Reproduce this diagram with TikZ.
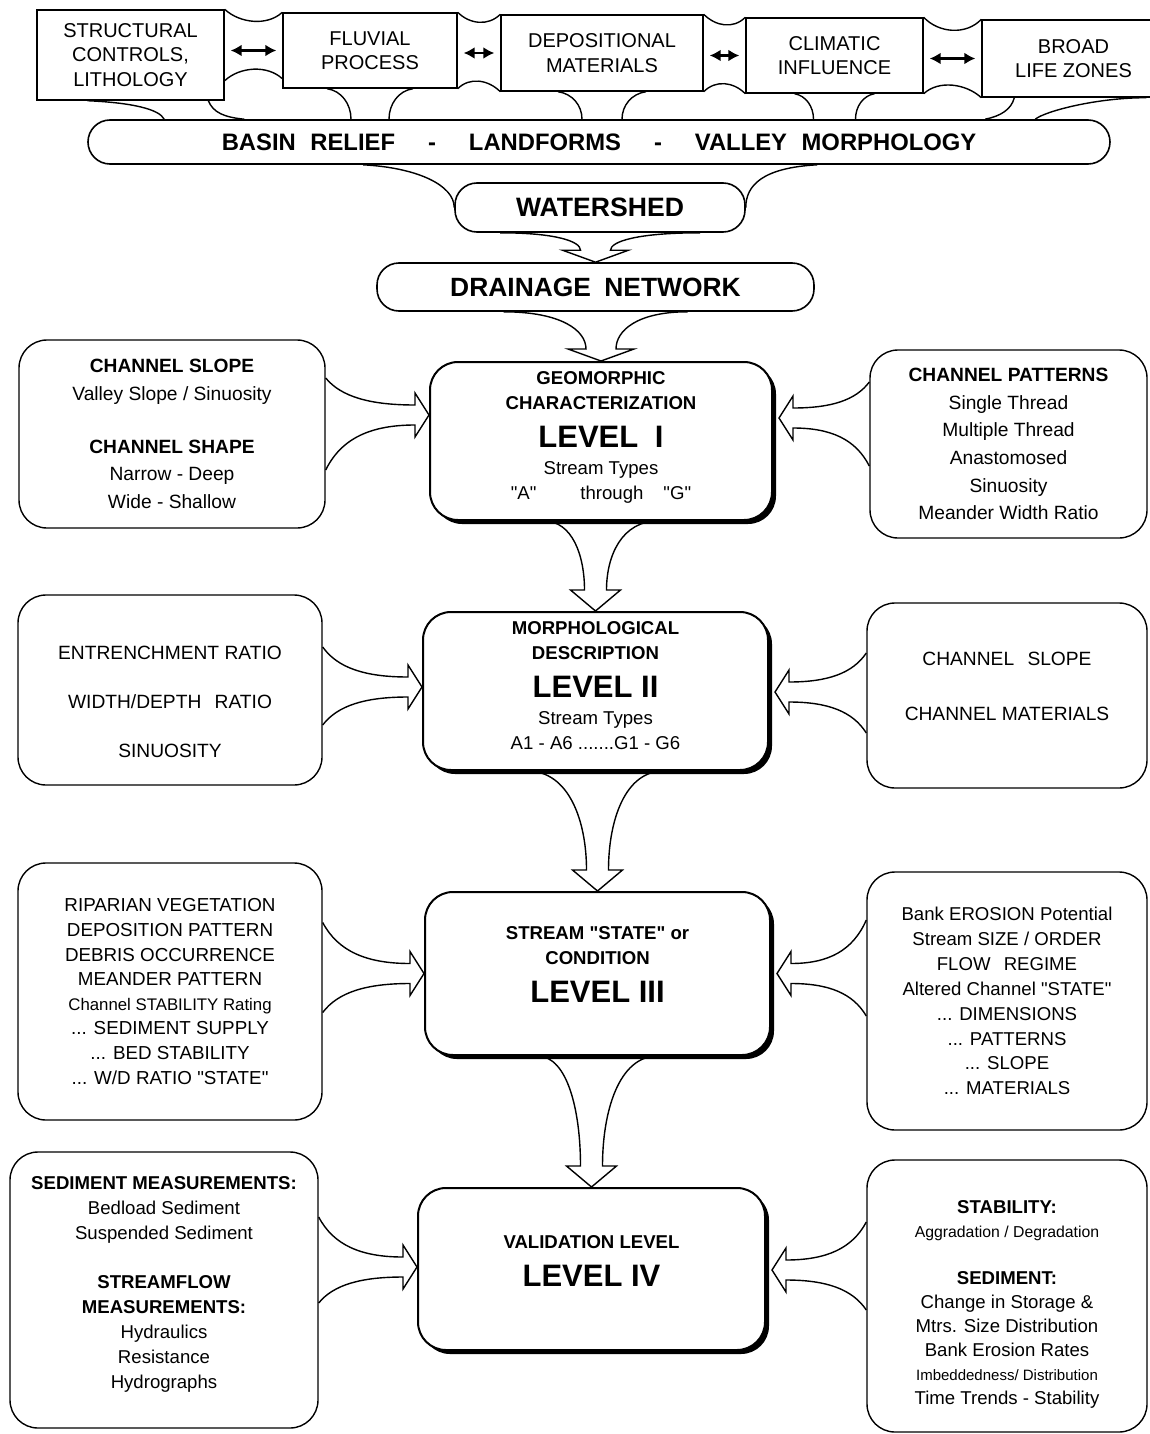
\documentclass[tikz,border=0pt]{standalone}
\usepackage{fontspec}
\setmainfont{Liberation Sans}
\usetikzlibrary{positioning,arrows.meta,calc,shadows}

\begin{document}
\begin{tikzpicture}[
        x=0.5pt, y=-0.5pt,
        funnel neck/.store in=\fnneck, funnel barb/.store in=\fnbarb, funnel head/.store in=\fnhead,
        funnel neck=5pt, funnel barb=11pt, funnel head=7pt,
        factor/.style={rectangle, draw=black, line width=0.7pt, align=center, inner sep=0pt, font=\fontsize{10}{12.25}\selectfont},
        band/.style={rectangle, rounded corners=11pt, draw=black, line width=0.8pt, inner sep=0pt, font=\bfseries\fontsize{11.9}{14}\selectfont},
        levelbox/.style={rectangle, rounded corners=14pt, draw=black, line width=1pt, fill=white, inner sep=0pt,
            drop shadow={shadow xshift=2pt, shadow yshift=-2pt, fill=black, opacity=1}},
        leveltext/.style={align=center, inner sep=0pt, font=\fontsize{9.3}{12.5}\selectfont},
        sidebox/.style={rectangle, rounded corners=14pt, draw=black, line width=0.7pt, align=center, inner sep=0pt, font=\fontsize{9.4}{12.4}\selectfont},
        sidetext/.style={align=center, inner sep=0pt},
        link/.style={line width=0.7pt},
        twoway/.style={line width=1.4pt, {Latex[length=5.5pt,width=6pt]}-{Latex[length=5.5pt,width=6pt]}, shorten <=3pt, shorten >=3pt},
        bigfunnel/.style={funnel neck=5.5pt, funnel barb=12.5pt, funnel head=10.5pt},
        flatfunnel/.style={funnel neck=7.5pt, funnel barb=16.5pt, funnel head=6pt},
        % two curved sides narrowing into a hollow arrow head
        funneldown/.style={to path={let \p1=(\tikztostart), \p2=(\tikztotarget) in
            (\x1-#1,\y1) .. controls ({\x1-#1+0.7*(\x2-\x1+#1-\fnneck)},\y1) and (\x2-\fnneck,{0.5*(\y1+\y2+\fnhead)}) .. (\x2-\fnneck,\y2+\fnhead)
            -- (\x2-\fnbarb,\y2+\fnhead) -- (\p2) -- (\x2+\fnbarb,\y2+\fnhead) -- (\x2+\fnneck,\y2+\fnhead)
            .. controls (\x2+\fnneck,{0.5*(\y1+\y2+\fnhead)}) and ({\x1+#1+0.7*(\x2-\x1-#1+\fnneck)},\y1) .. (\x1+#1,\y1)}},
        funnelright/.style={to path={let \p1=(\tikztostart), \p2=(\tikztotarget) in
            (\x1,\y1+#1) .. controls ({\x1+0.15*(\x2-\x1)},{\y1+#1+0.7*(\y2-\y1-#1+\fnneck)}) and ({0.5*(\x1+\x2-\fnhead)},\y2+\fnneck) .. (\x2-\fnhead,\y2+\fnneck)
            -- (\x2-\fnhead,\y2+\fnbarb) -- (\p2) -- (\x2-\fnhead,\y2-\fnbarb) -- (\x2-\fnhead,\y2-\fnneck)
            .. controls ({0.5*(\x1+\x2-\fnhead)},\y2-\fnneck) and ({\x1+0.15*(\x2-\x1)},{\y1-#1+0.7*(\y2-\y1+#1-\fnneck)}) .. (\x1,\y1-#1)}},
        funnelleft/.style={to path={let \p1=(\tikztostart), \p2=(\tikztotarget) in
            (\x1,\y1+#1) .. controls ({\x1+0.15*(\x2-\x1)},{\y1+#1+0.7*(\y2-\y1-#1+\fnneck)}) and ({0.5*(\x1+\x2+\fnhead)},\y2+\fnneck) .. (\x2+\fnhead,\y2+\fnneck)
            -- (\x2+\fnhead,\y2+\fnbarb) -- (\p2) -- (\x2+\fnhead,\y2-\fnbarb) -- (\x2+\fnhead,\y2-\fnneck)
            .. controls ({0.5*(\x1+\x2+\fnhead)},\y2-\fnneck) and ({\x1+0.15*(\x2-\x1)},{\y1-#1+0.7*(\y2-\y1+#1-\fnneck)}) .. (\x1,\y1-#1)}},
        % open spout from a top box into the relief band
        spout/.style 2 args={to path={let \p1=(\tikztostart), \p2=(\tikztotarget) in
            (\x1-#1,\y1) .. controls ({\x1-#1+0.6*(#1-#2)},{\y1-1pt}) and (\x2-#2,{0.5*(\y1+\y2)}) .. (\x2-#2,\y2)
            (\x1+#1,\y1) .. controls ({\x1+#1-0.6*(#1-#2)},{\y1-1pt}) and (\x2+#2,{0.5*(\y1+\y2)}) .. (\x2+#2,\y2)}}
    ]
    \useasboundingbox (0,0) rectangle (1150,1434);
    \fill[white] (0,0) rectangle (1150,1434);
    \clip (0,0) rectangle (1150,1434);

    % controlling factors
    \node[factor, minimum width=93.5pt, minimum height=45pt] (struct) at (130.5,55) {STRUCTURAL\\CONTROLS,\\LITHOLOGY};
    \node[factor, minimum width=87pt, minimum height=37.5pt] (fluvial) at (370,50.5) {FLUVIAL\\PROCESS};
    \node[factor, minimum width=101pt, minimum height=38pt] (depo) at (602,53) {DEPOSITIONAL\\MATERIALS};
    \node[factor, minimum width=88.5pt, minimum height=37.5pt] (climate) at (834.5,55.5) {CLIMATIC\\INFLUENCE};
    \node[factor, minimum width=91.5pt, minimum height=38.5pt] (life) at (1073.5,58.5) {BROAD\\LIFE ZONES};

    \node[band, minimum width=511pt, minimum height=22pt] (basin) at (599,142) {BASIN\hspace{4pt} RELIEF\hspace{16.5pt}-\hspace{16.5pt}LANDFORMS\hspace{16.5pt}-\hspace{16.5pt}VALLEY\hspace{4pt} MORPHOLOGY};
    \node[band, minimum width=145pt, minimum height=24.5pt, font=\bfseries\fontsize{13.3}{16}\selectfont] (ws) at (600,207.5) {WATERSHED};
    \node[band, minimum width=218.5pt, minimum height=24pt, font=\bfseries\fontsize{13.2}{16}\selectfont] (dn) at (595.5,287) {DRAINAGE\hspace{3pt} NETWORK};

    % the four levels
    \node[levelbox, minimum width=171pt, minimum height=79pt,
        label={[leveltext, name=l1txt, yshift=2pt]center:{\textbf{GEOMORPHIC}\\\textbf{CHARACTERIZATION}\\[6.5pt]{\fontsize{15.5}{18}\selectfont\bfseries LEVEL\hspace{4pt} I}\\[1pt]Stream Types\\\textquotedbl A\textquotedbl\hspace{22pt}through\hspace{10pt}\textquotedbl G\textquotedbl}}]
        (l1) at (601,441) {};
    \node[levelbox, minimum width=172.5pt, minimum height=79pt,
        label={[leveltext, name=l2txt, yshift=2.5pt]center:{\textbf{MORPHOLOGICAL}\\\textbf{DESCRIPTION}\\[6.5pt]{\fontsize{15.5}{18}\selectfont\bfseries LEVEL II}\\[1pt]Stream Types\\A1 - A6 .......G1 - G6}}]
        (l2) at (595.5,691) {};
    \node[levelbox, minimum width=172.5pt, minimum height=81.5pt,
        label={[leveltext, name=l3txt, yshift=4.5pt]center:{\textbf{STREAM \textquotedbl STATE\textquotedbl\ or}\\\textbf{CONDITION}\\[6.5pt]{\fontsize{15.5}{18}\selectfont\bfseries LEVEL III}}}]
        (l3) at (597.5,973.5) {};
    \node[levelbox, minimum width=173.5pt, minimum height=81pt,
        label={[leveltext, name=l4txt, yshift=4pt]center:{\textbf{VALIDATION LEVEL}\\[6.5pt]{\fontsize{15.5}{18}\selectfont\bfseries LEVEL IV}}}]
        (l4) at (591.5,1269) {};

    % criteria at each level
    \node[sidebox, minimum width=153pt, minimum height=94pt, font=\fontsize{9.6}{13.8}\selectfont] (slope) at (172,434)
        {\textbf{CHANNEL SLOPE}\\Valley Slope / Sinuosity\\[12.5pt]\textbf{CHANNEL SHAPE}\\Narrow - Deep\\Wide - Shallow};
    \node[sidebox, minimum width=138.5pt, minimum height=94pt, font=\fontsize{9.6}{13.8}\selectfont] (patterns) at (1008.5,444)
        {\textbf{CHANNEL PATTERNS}\\Single Thread\\Multiple Thread\\Anastomosed\\Sinuosity\\Meander Width Ratio};
    \node[sidebox, minimum width=152pt, minimum height=95pt,
        label={[sidetext, name=ratiostxt, yshift=-6pt, font=\fontsize{9.6}{12.5}\selectfont]center:{ENTRENCHMENT RATIO\\[12pt]WIDTH/DEPTH\hspace{4pt} RATIO\\[12pt]SINUOSITY}}]
        (ratios) at (170,690) {};
    \node[sidebox, minimum width=140pt, minimum height=92.5pt,
        label={[sidetext, name=slopemattxt, yshift=4.5pt, font=\fontsize{9.6}{12.5}\selectfont]center:{CHANNEL\hspace{4pt} SLOPE\\[15pt]CHANNEL MATERIALS}}]
        (slopemat) at (1007,695.5) {};
    \node[sidebox, minimum width=152pt, minimum height=128.5pt, font=\fontsize{9.4}{12.3}\selectfont] (condition) at (170,991.5)
        {RIPARIAN VEGETATION\\DEPOSITION PATTERN\\DEBRIS OCCURRENCE\\MEANDER PATTERN\\{\fontsize{8.4}{12.3}\selectfont Channel STABILITY Rating}\\... SEDIMENT SUPPLY\\... BED STABILITY\\... W/D RATIO \textquotedbl STATE\textquotedbl};
    \node[sidebox, minimum width=140pt, minimum height=129pt, font=\fontsize{9.3}{12.45}\selectfont] (erosion) at (1007,1001)
        {Bank EROSION Potential\\Stream SIZE / ORDER\\FLOW\hspace{4pt} REGIME\\Altered Channel \textquotedbl STATE\textquotedbl\\... DIMENSIONS\\... PATTERNS\\... SLOPE\\... MATERIALS};
    \node[sidebox, minimum width=154pt, minimum height=138pt,
        label={[sidetext, name=measuretxt, yshift=3pt, font=\fontsize{9.3}{12.5}\selectfont]center:{\textbf{SEDIMENT MEASUREMENTS:}\\Bedload Sediment\\Suspended Sediment\\[12pt]\textbf{STREAMFLOW}\\\textbf{MEASUREMENTS:}\\Hydraulics\\Resistance\\Hydrographs}}]
        (measure) at (164,1290) {};
    \node[sidebox, minimum width=140pt, minimum height=136pt,
        label={[sidetext, name=stabilitytxt, yshift=-4pt, font=\fontsize{9.3}{12}\selectfont]center:{\textbf{STABILITY:}\\{\fontsize{7.9}{12}\selectfont Aggradation / Degradation}\\[11.5pt]\textbf{SEDIMENT:}\\Change in Storage \&\\Mtrs. Size Distribution\\Bank Erosion Rates\\{\fontsize{7.5}{12}\selectfont Imbeddedness/ Distribution}\\Time Trends - Stability}}]
        (stability) at (1007,1296) {};

    % links between the factors
    \draw[twoway] (struct.east |- fluvial.west) -- (fluvial.west);
    \draw[twoway] (fluvial.east |- depo.west) -- (depo.west);
    \draw[twoway] (depo.east |- climate.west) -- (climate.west);
    \draw[twoway] (climate.east |- life.west) -- (life.west);
    \draw[link] (struct.north east) .. controls +(15,14) and +(-15,14) .. (fluvial.north west);
    \draw[link] ($(struct.south east)+(0,-20)$) .. controls +(15,-14) and +(-15,-14) .. ($(fluvial.south west)+(0,-10)$);
    \draw[link] (fluvial.north east) .. controls +(12,12) and +(-12,12) .. (depo.north west);
    \draw[link] (fluvial.south east) .. controls +(12,-12) and +(-12,-12) .. (depo.south west);
    \draw[link] (depo.north east) .. controls +(12,12) and +(-12,12) .. (climate.north west);
    \draw[link] (depo.south east) .. controls +(12,-12) and +(-12,-12) .. (climate.south west);
    \draw[link] (climate.north east) .. controls +(15,16) and +(-15,16) .. (life.north west);
    \draw[link] (climate.south east) .. controls +(15,-14) and +(-15,-14) .. (life.south west);

    % factors feeding the relief band
    \draw[link] ($(struct.south west)+(51,0)$) .. controls +(45,2) and +(-5,-10) .. ($(basin.north west)+(77,0)$);
    \draw[link] ($(struct.south west)+(172,0)$) .. controls +(5,12) and +(-20,-2) .. ($(basin.north west)+(157,0)$);
    \draw[link, spout={21.5pt}{9.5pt}] (fluvial.south) to (fluvial.south |- basin.north);
    \draw[link, spout={22pt}{10pt}] (depo.south) to (depo.south |- basin.north);
    \draw[link, spout={20pt}{10.5pt}] (climate.south) to (climate.south |- basin.north);
    \draw[link] ($(life.south west)+(33,0)$) .. controls +(-3,12) and +(15,-3) .. ($(basin.north west)+(898,0)$);
    \draw[link] ($(life.south west)+(165,0)$) .. controls +(-50,0) and +(10,-8) .. ($(basin.north west)+(948,0)$);

    % band narrowing to the watershed
    \draw[link] ($(basin.south west)+(276,0)$) .. controls +(55,3) and +(0,-22) .. (ws.west);
    \draw[link] ($(basin.south west)+(730,0)$) .. controls +(-55,3) and +(0,-22) .. (ws.east);

    % main sequence
    \draw[link, flatfunnel, funneldown=50pt] (ws.south) to (dn.north);
    \draw[link, flatfunnel, funneldown=46pt] (dn.south) to (l1.north);
    \draw[link, bigfunnel, funneldown=28.5pt] (l1.south) to (l2.north);
    \draw[link, bigfunnel, funneldown=34pt] (l2.south) to (l3.north);
    \draw[link, bigfunnel, funneldown=30pt] (l3.south) to (l4.north);

    % criteria into each level
    \draw[link, funnelright=23pt] ($(slope.east)+(0,-10)$) to ($(l1.west)+(0,-26)$);
    \draw[link, funnelleft=21pt] ($(patterns.west)+(0,-20)$) to ($(l1.east)+(6,-23)$);
    \draw[link, funnelright=19.5pt] ($(ratios.east)+(0,-4)$) to ($(l2.west)+(0,-4)$);
    \draw[link, funnelleft=20pt] ($(slopemat.west)+(0,-2.5)$) to ($(l2.east)+(6,1)$);
    \draw[link, funnelright=22.5pt] ($(condition.east)+(0,-24)$) to (l3.west);
    \draw[link, funnelleft=24pt] ($(erosion.west)+(0,-33)$) to ($(l3.east)+(6,0)$);
    \draw[link, funnelright=21.5pt] ($(measure.east)+(0,-30)$) to ($(l4.west)+(0,-2)$);
    \draw[link, funnelleft=22pt] ($(stability.west)+(0,-30)$) to ($(l4.east)+(6,1)$);
\end{tikzpicture}
\end{document}
